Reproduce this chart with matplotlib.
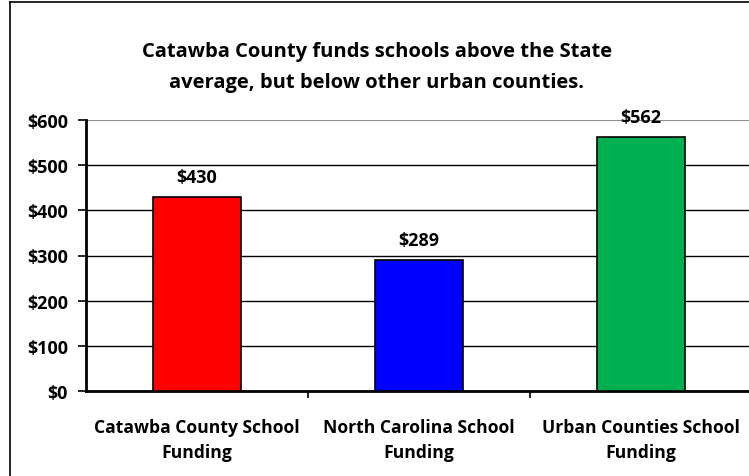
import matplotlib
matplotlib.use("Agg")
import matplotlib.pyplot as plt
from matplotlib.lines import Line2D

categories = ["Catawba County School\nFunding", "North Carolina School\nFunding", "Urban Counties School\nFunding"]
values = [430, 289, 562]
colors = ["#ff0000", "#0000ff", "#00b050"]
yticks = [0, 100, 200, 300, 400, 500, 600]
ytick_labels = ["$0", "$100", "$200", "$300", "$400", "$500", "$600"]

plt.rcParams['font.family'] = ['Open Sans', 'DejaVu Sans']
plt.rcParams['font.weight'] = 'bold'

fig = plt.figure(figsize=(7.49, 4.77), dpi=100)
ax = fig.add_axes([86/749, 85/477, 666/749, 271/477])

x = list(range(len(values)))
ax.bar(x, values, width=0.40, color=colors, edgecolor="black", linewidth=1.2, zorder=3)

for xi, v in zip(x, values):
    ax.annotate("$%d" % v, (xi, v), xytext=(0, 8), textcoords="offset points",
                ha="center", va="bottom", fontsize=13, fontweight="bold")

ax.set_xlim(-0.5, 2.5)
ax.set_ylim(0, 600)
ax.set_yticks(yticks)
ax.set_yticklabels(ytick_labels, fontsize=13, fontweight="bold")
ax.set_xticks([0.5, 1.5, 2.5])
ax.set_xticklabels([])
ax.tick_params(axis="x", direction="out", length=5, width=1.2)
ax.tick_params(axis="y", direction="out", length=6, width=1.2, pad=7)

for xi, lab in zip(x, categories):
    ax.text(xi, -59, lab, ha="center", va="top", fontsize=12.6, fontweight="bold",
            linespacing=1.55, transform=ax.transData)

ax.yaxis.grid(True, color="black", linewidth=1.0, zorder=0)
ax.set_axisbelow(True)
gl = ax.yaxis.get_gridlines()
gl[-1].set_color("#909090")
gl[-1].set_linewidth(1.5)

ax.spines["top"].set_visible(False)
ax.spines["right"].set_visible(False)
ax.spines["left"].set_linewidth(2)
ax.spines["bottom"].set_linewidth(2)

fig.text(0.503, 1 - 67.5/477, "Catawba County funds schools above the State\naverage, but below other urban counties.",
         ha="center", va="center", fontsize=14.5, fontweight="bold", linespacing=1.74)

# chart border (left and top only visible)
fig.add_artist(Line2D([10/749, 10/749], [0, 1 - 3/477], color="black", linewidth=1.2, transform=fig.transFigure))
fig.add_artist(Line2D([10/749, 1], [1 - 3/477, 1 - 3/477], color="black", linewidth=1.2, transform=fig.transFigure))

fig.savefig("out.png", dpi=100)
